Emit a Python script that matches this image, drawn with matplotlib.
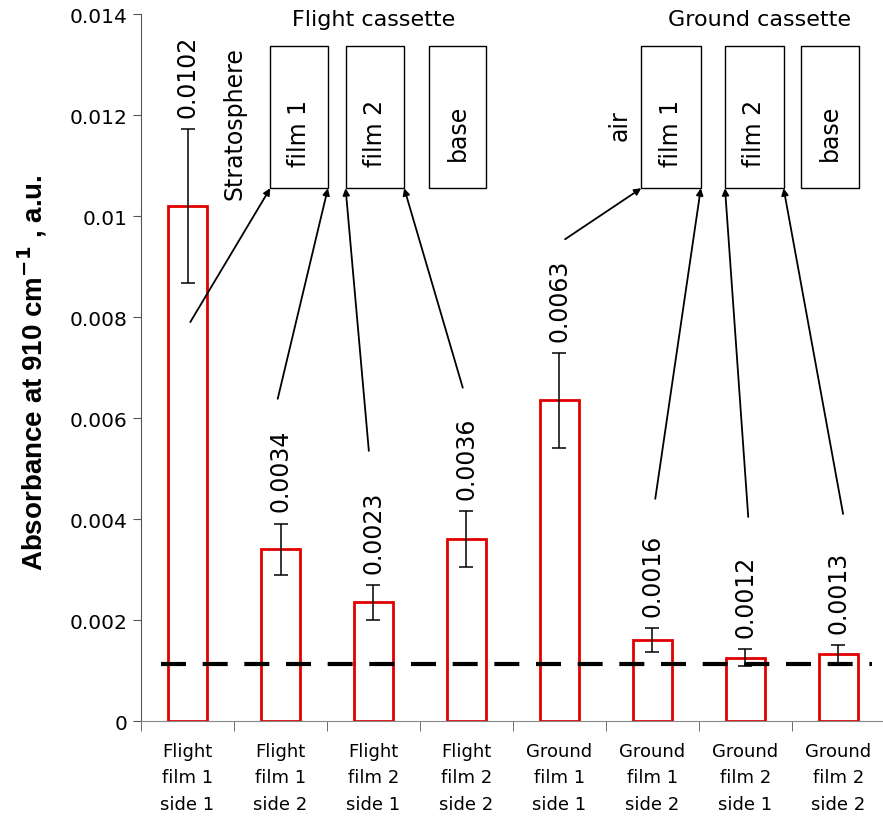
import numpy as np
import matplotlib.pyplot as plt
from matplotlib.patches import Rectangle

# data
categories = ["Flight\nfilm 1\nside 1", "Flight\nfilm 1\nside 2", "Flight\nfilm 2\nside 1",
              "Flight\nfilm 2\nside 2", "Ground\nfilm 1\nside 1", "Ground\nfilm 1\nside 2",
              "Ground\nfilm 2\nside 1", "Ground\nfilm 2\nside 2"]
absorbance = [0.0102, 0.0034, 0.00235, 0.0036, 0.00635, 0.0016, 0.00125, 0.00132]
errors = [0.00152, 0.00051, 0.00035, 0.00055, 0.00094, 0.00024, 0.00017, 0.00018]
value_labels = ["0.0102", "0.0034", "0.0023", "0.0036", "0.0063", "0.0016", "0.0012", "0.0013"]
baseline = 0.00113

plt.rcParams['font.family'] = ['DejaVu Sans']

fig = plt.figure(figsize=(8.83, 8.20), dpi=100)
ax = fig.add_axes([0.1597, 0.1195, 0.8425, 0.8622])

x = np.arange(len(categories))
ax.bar(x, absorbance, width=0.42, color='white', edgecolor='#e00000', linewidth=2.0, zorder=2)
ax.errorbar(x, absorbance, yerr=errors, fmt='none', ecolor='black', elinewidth=1.1,
            capsize=5, capthick=1.1, zorder=3)

# dashed reference level
ax.plot([-0.28, 7.36], [baseline, baseline], color='black', lw=3.0,
        dashes=(6, 4), zorder=4)

# value labels above the error bars
for xi, v, e, lab in zip(x, absorbance, errors, value_labels):
    ax.text(xi, v + e + 0.00024, lab, rotation=90, ha='center', va='bottom', fontsize=17)

# cassette boxes
box_bottom, box_top = 0.01055, 0.01337
boxes = [(0.89, 1.51, "film 1"), (1.70, 2.33, "film 2"), (2.60, 3.21, "base"),
         (4.88, 5.52, "film 1"), (5.78, 6.41, "film 2"), (6.60, 7.22, "base")]
for x0, x1, lab in boxes:
    ax.add_patch(Rectangle((x0, box_bottom), x1 - x0, box_top - box_bottom,
                           facecolor='white', edgecolor='black', lw=1.0, zorder=5))
    ax.text((x0 + x1) / 2, 0.01166, lab, rotation=90, ha='center', va='center', fontsize=17, zorder=6)

ax.text(2.0, 0.0139, "Flight cassette", ha='center', va='center', fontsize=16)
ax.text(6.15, 0.0139, "Ground cassette", ha='center', va='center', fontsize=16)
ax.text(0.5, 0.01186, "Stratosphere", rotation=90, ha='center', va='center', fontsize=17)
ax.text(4.65, 0.0118, "air", rotation=90, ha='center', va='center', fontsize=17)

# arrows from value labels to the film sides
arrows = [((0.03, 0.0079), (0.89, box_bottom)),
          ((0.97, 0.00638), (1.51, box_bottom)),
          ((1.95, 0.00535), (1.70, box_bottom)),
          ((2.96, 0.0066), (2.33, box_bottom)),
          ((4.06, 0.00954), (4.88, box_bottom)),
          ((5.03, 0.0044), (5.52, box_bottom)),
          ((6.03, 0.00404), (5.78, box_bottom)),
          ((7.05, 0.0041), (6.41, box_bottom))]
for start, end in arrows:
    ax.annotate("", xy=end, xytext=start,
                arrowprops=dict(arrowstyle='-|>', color='black', lw=1.3,
                                mutation_scale=10, shrinkA=0, shrinkB=0), zorder=4)

ax.set_xlim(-0.5, 7.5)
ax.set_ylim(0, 0.014)
ax.set_yticks(np.arange(0, 0.0141, 0.002))
ax.set_yticklabels(["0", "0.002", "0.004", "0.006", "0.008", "0.01", "0.012", "0.014"], fontsize=14.5)
ax.set_xticks(x)
ax.set_xticklabels(categories, fontsize=13, linespacing=1.6)
ax.set_xticks(np.arange(-0.5, 8.0, 1.0), minor=True)
ax.tick_params(axis='x', which='major', length=0, pad=15)
ax.tick_params(axis='x', which='minor', length=7, color='#555555', direction='out')
ax.tick_params(axis='y', length=6, color='#555555', direction='out')

ax.spines['top'].set_visible(False)
ax.spines['right'].set_visible(False)
ax.spines['left'].set_color('#555555')
ax.spines['bottom'].set_color('#888888')

fig.text(0.036, 0.545, "Absorbance at 910 cm$^{\\mathbf{-1}}$ , a.u.", rotation=90,
         ha='center', va='center', fontsize=20, fontweight='bold', family='Liberation Sans')

fig.savefig("out.png", dpi=100)
